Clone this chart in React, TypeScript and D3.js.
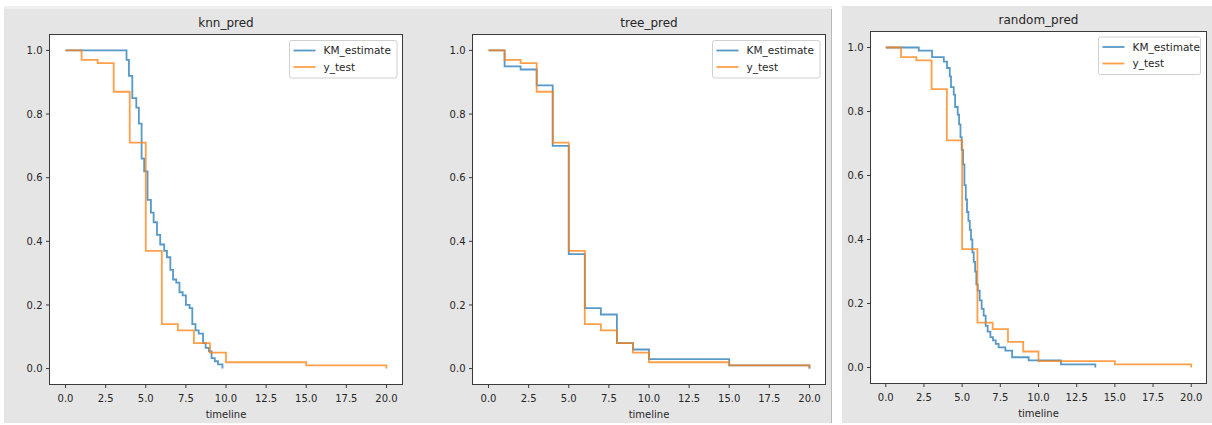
import React from "react";
import * as d3 from "d3";

// ---- data ----
const panelTitles = ["knn_pred", "tree_pred", "random_pred"];
const seriesNames = ["KM_estimate", "y_test"];
const xTicks = [0, 2.5, 5, 7.5, 10, 12.5, 15, 17.5, 20];
const yTicks = [0, 0.2, 0.4, 0.6, 0.8, 1.0];

const yTestTimes = [0, 1, 2, 3, 4, 5, 6, 7, 8, 9, 10, 15, 20];
const yTestValues = [1.0, 0.97, 0.96, 0.87, 0.71, 0.37, 0.14, 0.12, 0.08, 0.05, 0.02, 0.01, 0.0];

const knnTimes = [0, 3.8, 3.95, 4.16, 4.41, 4.57, 4.74, 4.9, 5.11, 5.32, 5.49, 5.7, 5.9, 6.15, 6.32, 6.53, 6.7, 6.9, 7.1, 7.3, 7.5, 7.73, 7.9, 8.1, 8.3, 8.57, 8.73, 8.94, 9.1, 9.3, 9.5, 9.78];
const knnValues = [1.0, 0.97, 0.92, 0.85, 0.82, 0.77, 0.66, 0.62, 0.53, 0.49, 0.46, 0.42, 0.39, 0.37, 0.35, 0.31, 0.28, 0.27, 0.24, 0.23, 0.2, 0.19, 0.14, 0.12, 0.11, 0.08, 0.065, 0.054, 0.033, 0.023, 0.013, 0.0];

const treeTimes = [0, 1, 2, 3, 4, 5, 6, 7, 8, 9, 10, 15, 20];
const treeValues = [1.0, 0.95, 0.94, 0.89, 0.7, 0.36, 0.19, 0.17, 0.08, 0.06, 0.03, 0.01, 0.0];

const randomTimes = [0, 2.16, 3.03, 3.8, 4.01, 4.19, 4.27, 4.45, 4.54, 4.71, 4.8, 4.89, 4.97, 5.06, 5.15, 5.24, 5.32, 5.41, 5.5, 5.58, 5.67, 5.76, 5.85, 5.93, 6.02, 6.15, 6.28, 6.41, 6.54, 6.67, 6.85, 7.02, 7.2, 7.39, 7.83, 8.27, 9.36, 11.47, 13.72];
const randomValues = [1.0, 0.99, 0.97, 0.956, 0.936, 0.91, 0.876, 0.853, 0.814, 0.79, 0.76, 0.72, 0.68, 0.635, 0.57, 0.525, 0.486, 0.458, 0.43, 0.4, 0.36, 0.33, 0.3, 0.26, 0.24, 0.21, 0.183, 0.162, 0.13, 0.112, 0.095, 0.085, 0.074, 0.063, 0.053, 0.032, 0.022, 0.01, 0.0];

// ---- layout ----
const W = 1212;
const H = 425;
const FONT = "'DejaVu Sans', sans-serif";
const BLUE = "#1f77b4";
const ORANGE = "#ff7f0e";

const boxes = [
  { left: 49.5, right: 402.5, top: 34.5, bottom: 384.5, legendX: 289.5, legendY: 40.5, titleY: 27 },
  { left: 472.5, right: 825.5, top: 34.5, bottom: 384.5, legendX: 712.5, legendY: 40.5, titleY: 27 },
  { left: 870.5, right: 1206.5, top: 31.5, bottom: 383.5, legendX: 1098.5, legendY: 37, titleY: 24 },
];

const kmSeries = [
  { t: knnTimes, v: knnValues },
  { t: treeTimes, v: treeValues },
  { t: randomTimes, v: randomValues },
];

function Panel({ idx }: { idx: number }) {
  const b = boxes[idx];
  const x = d3.scaleLinear().domain([-1, 21]).range([b.left, b.right]);
  const y = d3.scaleLinear().domain([-0.05, 1.05]).range([b.bottom, b.top]);
  const line = d3
    .line<[number, number]>()
    .x((d) => x(d[0]))
    .y((d) => y(d[1]))
    .curve(d3.curveStepAfter);
  const km = kmSeries[idx];
  const kmPts = km.t.map((t, i) => [t, km.v[i]] as [number, number]);
  const ytPts = yTestTimes.map((t, i) => [t, yTestValues[i]] as [number, number]);
  const lw = 1.8;
  const legW = idx === 2 ? 102 : 107.5;
  return (
    <g>
      <rect x={b.left} y={b.top} width={b.right - b.left} height={b.bottom - b.top} fill="#ffffff" />
      <path d={line(kmPts) || ""} fill="none" stroke={BLUE} strokeWidth={lw} strokeOpacity={0.75} />
      <path d={line(ytPts) || ""} fill="none" stroke={ORANGE} strokeWidth={lw} strokeOpacity={0.75} />
      <rect x={b.left} y={b.top} width={b.right - b.left} height={b.bottom - b.top} fill="none" stroke="#3a3a3a" strokeWidth={1} />
      {xTicks.map((t) => (
        <g key={"x" + t}>
          <line x1={x(t)} x2={x(t)} y1={b.bottom} y2={b.bottom + 3.5} stroke="#3a3a3a" />
          <text x={x(t)} y={b.bottom + 17} textAnchor="middle" fontSize={10} fontFamily={FONT} fill="#262626">
            {t.toFixed(1)}
          </text>
        </g>
      ))}
      {yTicks.map((t) => (
        <g key={"y" + t}>
          <line x1={b.left - 3.5} x2={b.left} y1={y(t)} y2={y(t)} stroke="#3a3a3a" />
          <text x={b.left - 7} y={y(t) + 3.6} textAnchor="end" fontSize={10} fontFamily={FONT} fill="#262626">
            {t.toFixed(1)}
          </text>
        </g>
      ))}
      <text x={(b.left + b.right) / 2} y={b.bottom + 33} textAnchor="middle" fontSize={10} fontFamily={FONT} fill="#262626">
        timeline
      </text>
      <text x={(b.left + b.right) / 2} y={b.titleY} textAnchor="middle" fontSize={12} fontFamily={FONT} fill="#262626">
        {panelTitles[idx]}
      </text>
      <g transform={`translate(${b.legendX},${b.legendY})`}>
        <rect x={0} y={0} width={legW} height={37.5} rx={2} fill="#ffffff" fillOpacity={0.85} stroke="#d0d0d0" />
        {seriesNames.map((n, i) => (
          <g key={n} transform={`translate(0,${10 + i * 16.5})`}>
            <line x1={4} x2={26} y1={0} y2={0} stroke={i === 0 ? BLUE : ORANGE} strokeWidth={lw} strokeOpacity={0.75} />
            <text x={34} y={3.8} fontSize={10.5} fontFamily={FONT} fill="#262626">
              {n}
            </text>
          </g>
        ))}
      </g>
    </g>
  );
}

export default function App() {
  return (
    <svg width={W} height={H} style={{ position: "absolute", left: 0, top: 0 }}>
      <rect x={0} y={0} width={W} height={H} fill="#ffffff" />
      <rect x={4} y={6} width={828} height={417} fill="#efefef" />
      <rect x={4} y={9} width={828} height={414} fill="#e5e5e5" />
      <line x1={831.5} x2={831.5} y1={9} y2={423} stroke="#b8b8b8" />
      <rect x={842} y={6} width={370} height={417} fill="#e5e5e5" />
      {[0, 1, 2].map((i) => (
        <Panel key={i} idx={i} />
      ))}
    </svg>
  );
}
